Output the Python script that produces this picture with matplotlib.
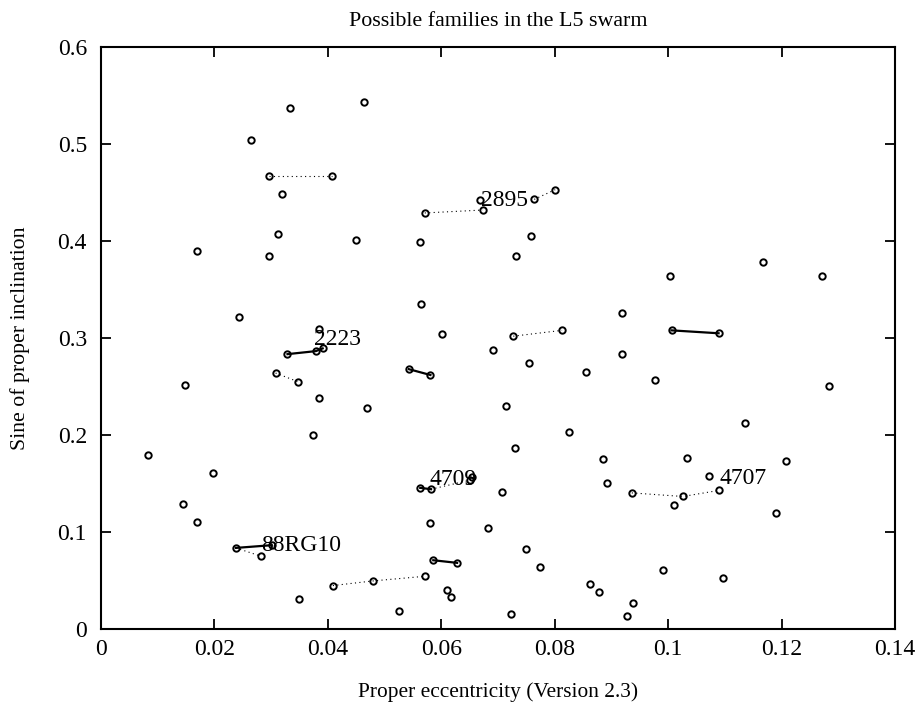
import matplotlib
matplotlib.use("Agg")
import matplotlib.pyplot as plt

# all asteroids in the swarm (proper e, sin i)
ecc = [0.0333, 0.0464, 0.0264, 0.0297, 0.0407, 0.0320, 0.0571, 0.0673, 0.0668,
       0.0764, 0.0801, 0.0312, 0.0449, 0.0562, 0.0170, 0.0296, 0.0564, 0.0244,
       0.0602, 0.0385, 0.0758, 0.0732, 0.1004, 0.1168, 0.1272, 0.0918, 0.0727,
       0.0813, 0.1006, 0.1089, 0.0329, 0.0379, 0.0391, 0.0692, 0.0308, 0.0348,
       0.0148, 0.0543, 0.0581, 0.0385, 0.0470, 0.0374, 0.0083, 0.0198, 0.0563,
       0.0582, 0.0651, 0.0654, 0.0145, 0.0169, 0.0581, 0.0682, 0.0238, 0.0301,
       0.0282, 0.0586, 0.0628, 0.0409, 0.0480, 0.0572, 0.0610, 0.0617, 0.0349,
       0.0526, 0.0918, 0.0755, 0.0855, 0.0977, 0.1283, 0.0714, 0.1136, 0.0826,
       0.0730, 0.0886, 0.1034, 0.1207, 0.1072, 0.0892, 0.0708, 0.0936, 0.1026,
       0.1089, 0.1011, 0.1190, 0.0750, 0.0774, 0.0991, 0.1096, 0.0863, 0.0878,
       0.0938, 0.0928, 0.0723]
sini = [0.537, 0.543, 0.504, 0.467, 0.467, 0.449, 0.429, 0.432, 0.442,
        0.443, 0.453, 0.407, 0.401, 0.399, 0.390, 0.385, 0.335, 0.322,
        0.304, 0.309, 0.405, 0.385, 0.364, 0.378, 0.364, 0.326, 0.302,
        0.308, 0.308, 0.305, 0.2835, 0.2866, 0.2894, 0.2876, 0.264, 0.255,
        0.252, 0.268, 0.262, 0.238, 0.228, 0.200, 0.180, 0.1615, 0.1457,
        0.1443, 0.1536, 0.157, 0.1295, 0.111, 0.109, 0.1044, 0.0838, 0.0866,
        0.0753, 0.0711, 0.0684, 0.045, 0.0498, 0.0546, 0.040, 0.0333, 0.031,
        0.019, 0.2835, 0.2742, 0.265, 0.2567, 0.2508, 0.230, 0.213, 0.203,
        0.187, 0.175, 0.1766, 0.1732, 0.1577, 0.151, 0.1416, 0.1405, 0.1368,
        0.143, 0.1278, 0.120, 0.0829, 0.064, 0.0608, 0.0526, 0.0471, 0.0385,
        0.0275, 0.0141, 0.0162]

# close links (solid) and looser links (dotted), as lists of point chains
solid_links = [
    ([0.0329, 0.0379, 0.0391], [0.2835, 0.2866, 0.2894]),
    ([0.1006, 0.1089], [0.308, 0.305]),
    ([0.0543, 0.0581], [0.268, 0.262]),
    ([0.0563, 0.0582], [0.1457, 0.1443]),
    ([0.0238, 0.0301], [0.0838, 0.0866]),
    ([0.0586, 0.0628], [0.0711, 0.0684]),
]
dotted_links = [
    ([0.0297, 0.0407], [0.467, 0.467]),
    ([0.0571, 0.0673], [0.429, 0.432]),
    ([0.0764, 0.0801], [0.443, 0.453]),
    ([0.0727, 0.0813], [0.302, 0.308]),
    ([0.0308, 0.0348], [0.264, 0.255]),
    ([0.0582, 0.0651], [0.1443, 0.1536]),
    ([0.0238, 0.0282], [0.0838, 0.0753]),
    ([0.0409, 0.0480, 0.0572], [0.045, 0.0498, 0.0546]),
    ([0.0936, 0.1026, 0.1089], [0.1405, 0.1368, 0.143]),
]

fam_names = ["2895", "2223", "4709", "88RG10", "4707"]
fam_x = [0.0670, 0.0376, 0.0579, 0.0282, 0.1090]
fam_y = [0.442, 0.2985, 0.1545, 0.0860, 0.1555]

plt.rcParams['font.family'] = ['Liberation Serif', 'DejaVu Serif']

fig = plt.figure(figsize=(9.17, 7.07), dpi=100)
ax = fig.add_axes([0.110, 0.110, 0.866, 0.8235])

for xs, ys in dotted_links:
    ax.plot(xs, ys, linestyle=(0, (1, 3)), color='black', linewidth=0.8)
for xs, ys in solid_links:
    ax.plot(xs, ys, '-', color='black', linewidth=1.6)

ax.plot(ecc, sini, 'o', markersize=4.6, markerfacecolor='none',
        markeredgecolor='black', markeredgewidth=1.4, linestyle='none')

for name, x, y in zip(fam_names, fam_x, fam_y):
    ax.text(x, y, name, fontsize=17, ha='left', va='center')

ax.set_xlim(0, 0.14)
ax.set_ylim(0, 0.6)
ax.set_xticks([0, 0.02, 0.04, 0.06, 0.08, 0.1, 0.12, 0.14])
ax.set_xticklabels(['0', '0.02', '0.04', '0.06', '0.08', '0.1', '0.12', '0.14'])
ax.set_yticks([0, 0.1, 0.2, 0.3, 0.4, 0.5, 0.6])
ax.set_yticklabels(['0', '0.1', '0.2', '0.3', '0.4', '0.5', '0.6'])
ax.tick_params(direction='in', length=7, width=1.3, top=True, right=True,
               labelsize=17, pad=7)
ax.tick_params(axis='y', pad=10)
for s in ax.spines.values():
    s.set_linewidth(1.5)

ax.set_title('Possible families in the L5 swarm', fontsize=15.8, pad=15)
ax.set_xlabel('Proper eccentricity (Version 2.3)', fontsize=15.4, labelpad=16)
ax.set_ylabel('Sine of proper inclination', fontsize=15.7, labelpad=20)

fig.savefig('out.png', dpi=100)
